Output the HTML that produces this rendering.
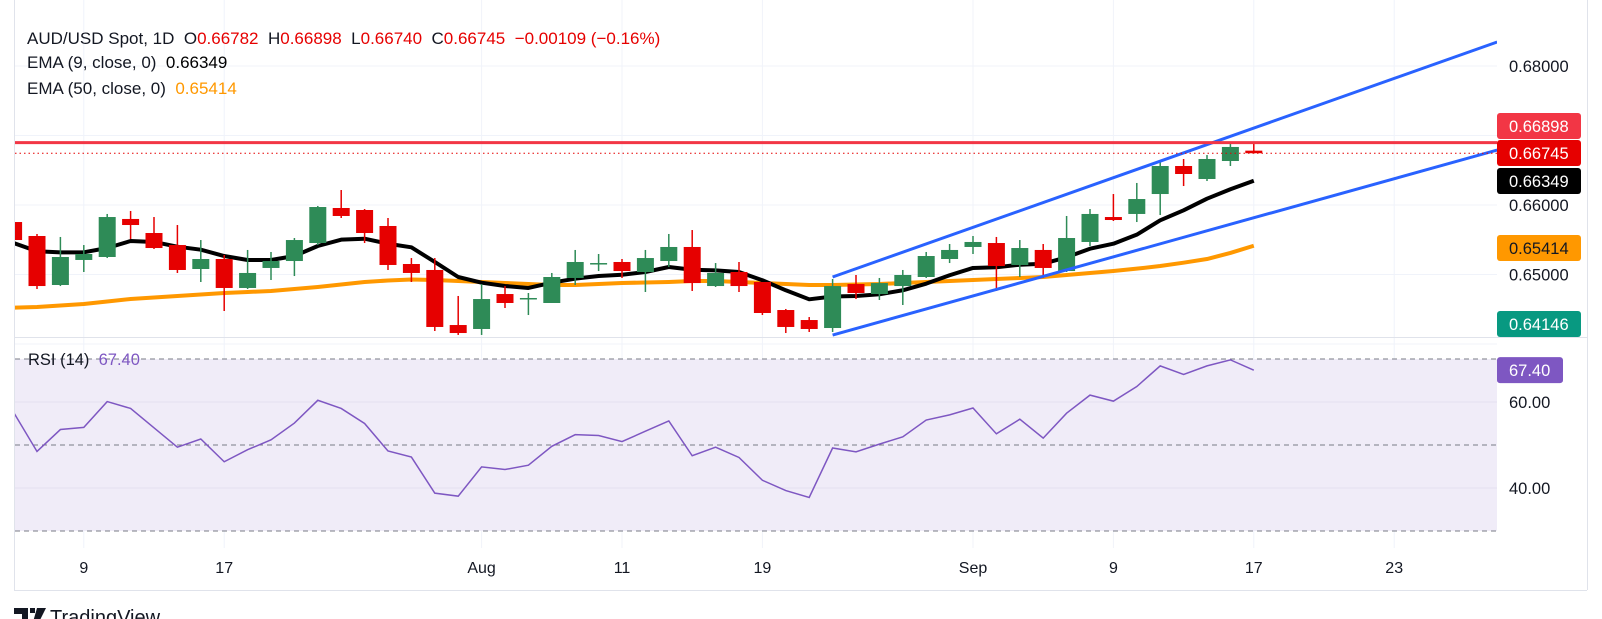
<!DOCTYPE html>
<html><head><meta charset="utf-8"><style>
html,body{margin:0;padding:0;background:#fff;}
svg{display:block;font-family:"Liberation Sans",sans-serif;}
.pre{white-space:pre;}
</style></head><body>
<svg id="chart" width="1602" height="619" viewBox="0 0 1602 619" xmlns="http://www.w3.org/2000/svg">
<defs><clipPath id="pclip"><rect x="15" y="0" width="1482" height="337"/></clipPath>
<clipPath id="rclip"><rect x="15" y="338" width="1482" height="210"/></clipPath>
<clipPath id="logoclip"><rect x="0" y="592" width="400" height="27"/></clipPath></defs>
<g id="grid"></g>
<g id="rsipane" clip-path="url(#rclip)"></g>
<g id="pricepane" clip-path="url(#pclip)"></g>
<g id="axes"></g>
<g font-size="17" fill="#131722" class="pre">
<text x="27" y="44" class="pre">AUD/USD Spot, 1D  O<tspan fill="#e60000">0.66782</tspan>  H<tspan fill="#e60000">0.66898</tspan>  L<tspan fill="#e60000">0.66740</tspan>  C<tspan fill="#e60000">0.66745</tspan>  <tspan fill="#e60000">−0.00109 (−0.16%)</tspan></text>
<text x="27" y="68" class="pre">EMA (9, close, 0)  <tspan fill="#000">0.66349</tspan></text>
<text x="27" y="94" class="pre">EMA (50, close, 0)  <tspan fill="#ff9800">0.65414</tspan></text>
</g>
<g font-size="16.5">
<text x="28" y="365" fill="#131722" class="pre">RSI (14)  <tspan fill="#7e57c2">67.40</tspan></text>
</g>
<g clip-path="url(#logoclip)">
<path d="M14 608h14v14h-6v-8h-8z M30 608h5v5h-5z M37 608h9l-7 14h-6z" fill="#131722"/>
<text x="50" y="624" font-size="20" fill="#131722">TradingView</text>
</g>
</svg>
<script>
const opens=[.65755,.65554,.64849,.65209,.65252,.65799,.65597,.65424,.65079,.65223,.64806,.65094,.65194,.65453,.65957,.65928,.65698,.65151,.65065,.64273,.64216,.64719,.64662,.64590,.64950,.65165,.65180,.65036,.65194,.65396,.64834,.65036,.64892,.64489,.64345,.64230,.64863,.64719,.64834,.64964,.65223,.65396,.65453,.65137,.65353,.65050,.65468,.65827,.65871,.66158,.66561,.66374,.66633,.66782];
const highs=[.65813,.65583,.65540,.65424,.65871,.65914,.65827,.65712,.65496,.65281,.65353,.65324,.65525,.65986,.66216,.65942,.65813,.65237,.65237,.64691,.64863,.64834,.64734,.65022,.65353,.65295,.65223,.65353,.65583,.65640,.65165,.65180,.64892,.64504,.64388,.64935,.64993,.64950,.65065,.65324,.65439,.65554,.65540,.65496,.65439,.65842,.65942,.66158,.66317,.66619,.66662,.66719,.66878,.66898];
const lows=[.65468,.64791,.64834,.65036,.65237,.65511,.65367,.65022,.64892,.64475,.64791,.64921,.64978,.65424,.65813,.65453,.65065,.64892,.64187,.64130,.64130,.64518,.64417,.64590,.64849,.65050,.64950,.64748,.65108,.64763,.64820,.64748,.64417,.64158,.64173,.64173,.64647,.64633,.64561,.64950,.65165,.65295,.64763,.64964,.64950,.65036,.65410,.65770,.65755,.65856,.66273,.66345,.66561,.66740];
const closes=[.65496,.64834,.65252,.65295,.65827,.65712,.65381,.65065,.65223,.64806,.65022,.65194,.65496,.65971,.65842,.65597,.65137,.65022,.64245,.64158,.64647,.64590,.64662,.64964,.65180,.65165,.65050,.65237,.65396,.64877,.65022,.64834,.64446,.64245,.64216,.64834,.64734,.64877,.64993,.65266,.65353,.65468,.65122,.65381,.65094,.65525,.65871,.65784,.66086,.66561,.66446,.66662,.66835,.66745];
const ema9=[.65453,.65334,.65319,.65319,.65381,.65482,.65468,.65400,.65357,.65266,.65209,.65209,.65266,.65410,.65501,.65515,.65443,.65391,.65180,.64964,.64882,.64835,.64806,.64882,.64940,.64978,.64997,.65036,.65108,.65069,.65060,.65036,.64917,.64773,.64643,.64683,.64691,.64715,.64773,.64868,.64989,.65094,.65104,.65141,.65155,.65248,.65371,.65443,.65573,.65780,.65924,.66091,.66226,.66349];
const ema50=[.64522,.64532,.64554,.64576,.64612,.64648,.64669,.64691,.64712,.64734,.64748,.64763,.64791,.64820,.64856,.64892,.64914,.64928,.64921,.64906,.64892,.64878,.64863,.64849,.64849,.64863,.64878,.64885,.64892,.64906,.64906,.64892,.64878,.64863,.64849,.64849,.64856,.64863,.64878,.64892,.64906,.64921,.64935,.64950,.64964,.64993,.65022,.65050,.65084,.65122,.65170,.65223,.65310,.65414];
const rsi=[57.6,48.5,53.6,54.1,60.1,58.5,54.0,49.5,51.4,46.1,48.9,51.2,55.1,60.4,58.5,55.0,48.6,47.2,38.8,38.1,44.9,44.3,45.3,49.7,52.4,52.2,50.8,53.2,55.6,47.5,49.5,47.1,41.8,39.4,37.8,49.3,48.4,50.2,51.9,55.8,57.0,58.6,52.6,56.0,51.6,57.4,61.6,60.2,63.6,68.4,66.4,68.4,69.8,67.4];
const priceTicks=[0.64,0.65,0.66,0.67,0.68];
const priceTickLabels=["0.68000","0.66000","0.65000"];
const rsiTicks=[60,40];
const rsiLevels=[70,50,30];
const timeTickIdx=[3,9,20,26,32,41,47,53,59];
const timeTickLabels=["9","17","Aug","11","19","Sep","9","17","23"];
const channelUpper=[[35,0.64964],[63.4,0.68345]];
const channelLower=[[35,0.64129],[63.4,0.66791]];
const resistance=0.66898;
const tags=[["0.66898","#f23645","#fff",126],["0.66745","#e60000","#fff",153],["0.66349","#000","#fff",181],["0.65414","#ff9800","#131722",248],["0.64146","#089981","#fff",324]];

const NS="http://www.w3.org/2000/svg";
const X=i=>13.6+23.4*i;
const Y=p=>205-(p-0.66)*6950;
const R=v=>445-(v-50)*4.3;
function mk(parent,tag,attrs){const e=document.createElementNS(NS,tag);for(const k in attrs)e.setAttribute(k,attrs[k]);parent.appendChild(e);return e;}
const grid=document.getElementById('grid'),pp=document.getElementById('pricepane'),rp=document.getElementById('rsipane'),ax=document.getElementById('axes');

priceTicks.forEach(p=>{const l=mk(grid,'line',{x1:15,x2:1497,y1:Y(p),y2:Y(p),stroke:'#f0f3fa','stroke-width':1});

});
rsiTicks.forEach(v=>{const l=mk(grid,'line',{x1:15,x2:1497,y1:R(v),y2:R(v),stroke:'#e6e2ef','stroke-width':1});

});
timeTickIdx.forEach((t,k)=>{const l=mk(grid,'line',{x1:X(t),x2:X(t),y1:0,y2:548,stroke:'#f0f3fa','stroke-width':1});


const tx=mk(ax,'text',{x:X(t),y:573,'text-anchor':'middle','font-size':16,fill:'#131722'});tx.textContent=timeTickLabels[k];

});

const fill=mk(rp,'rect',{x:15,y:R(70),width:1482,height:R(30)-R(70),fill:'#f0ecf8'});


rsiTicks.forEach(v=>{mk(rp,'line',{x1:15,x2:1497,y1:R(v),y2:R(v),stroke:'#e4dff0','stroke-width':1});});
rsiLevels.forEach(v=>{const l=mk(rp,'line',{x1:15,x2:1497,y1:R(v),y2:R(v),stroke:'#787b86','stroke-width':1,'stroke-dasharray':'5 4'});

});
const rl=mk(rp,'polyline',{points:rsi.map((v,i)=>X(i)+','+R(v)).join(' '),fill:'none',stroke:'#7e57c2','stroke-width':1.5});



const e50=mk(pp,'polyline',{points:ema50.map((v,i)=>X(i)+','+Y(v)).join(' '),fill:'none',stroke:'#ff9800','stroke-width':4,'stroke-linejoin':'round'});


const e9=mk(pp,'polyline',{points:ema9.map((v,i)=>X(i)+','+Y(v)).join(' '),fill:'none',stroke:'#000','stroke-width':4,'stroke-linejoin':'round'});


opens.forEach((o,i)=>{const c=closes[i],up=c>=o,col=up?'#2e8b57':'#e60000';
const g=mk(pp,'g',{});


mk(g,'line',{x1:X(i),x2:X(i),y1:Y(highs[i]),y2:Y(lows[i]),stroke:col,'stroke-width':1.5});
const top=Math.min(Y(o),Y(c)),h=Math.max(1.5,Math.abs(Y(o)-Y(c)));
mk(g,'rect',{x:X(i)-8.5,y:top,width:17,height:h,fill:col});});
[channelUpper,channelLower].forEach((ch,k)=>{const l=mk(pp,'line',{x1:X(ch[0][0]),y1:Y(ch[0][1]),x2:X(ch[1][0]),y2:Y(ch[1][1]),stroke:'#2962ff','stroke-width':3});

});
const rs=mk(pp,'line',{x1:15,x2:1497,y1:Y(resistance),y2:Y(resistance),stroke:'#f23645','stroke-width':3});


const cl=mk(pp,'line',{x1:15,x2:1497,y1:Y(closes[closes.length-1]),y2:Y(closes[closes.length-1]),stroke:'#e60000','stroke-width':1,'stroke-dasharray':'1.5 3'});



mk(ax,'line',{x1:14.5,x2:14.5,y1:0,y2:590,stroke:'#e0e3eb'});
mk(ax,'line',{x1:14,x2:1587,y1:337.5,y2:337.5,stroke:'#e0e3eb'});
mk(ax,'line',{x1:14,x2:1587,y1:590.5,y2:590.5,stroke:'#e0e3eb'});
mk(ax,'line',{x1:1587.5,x2:1587.5,y1:0,y2:590,stroke:'#e0e3eb'});

const plab=[[priceTickLabels[0],0.68],[priceTickLabels[1],0.66],[priceTickLabels[2],0.65]];
plab.forEach(a=>{const t=mk(ax,'text',{x:1509,y:Y(a[1])+6,'font-size':16.5,fill:'#131722'});t.textContent=a[0];

});
rsiTicks.forEach(v=>{const t=mk(ax,'text',{x:1509,y:R(v)+6,'font-size':16.5,fill:'#131722'});t.textContent=v.toFixed(2);

});
tags.forEach(tg=>{const g=mk(ax,'g',{});


mk(g,'rect',{x:1497,y:tg[3]-13,width:84,height:26,rx:3,fill:tg[1]});
const t=mk(g,'text',{x:1509,y:tg[3]+6,'font-size':16.5,fill:tg[2]});t.textContent=tg[0];});
const rg=mk(ax,'g',{});


mk(rg,'rect',{x:1497,y:R(rsi[rsi.length-1])-13,width:66,height:26,rx:3,fill:'#7e57c2'});
const rt=mk(rg,'text',{x:1509,y:R(rsi[rsi.length-1])+6,'font-size':16.5,fill:'#fff'});rt.textContent=rsi[rsi.length-1].toFixed(2);
</script>
</body></html>
